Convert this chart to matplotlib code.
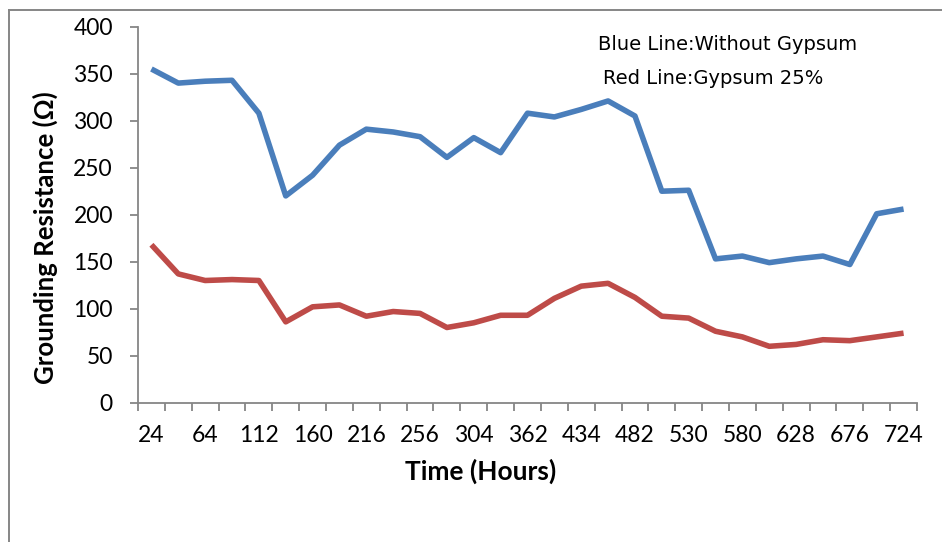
import numpy as np
import matplotlib.pyplot as plt
from matplotlib.lines import Line2D

# time points (hours); only every other one is labelled on the axis
tick_labels = ['24', '64', '112', '160', '216', '256', '304', '362',
               '434', '482', '530', '580', '628', '676', '724']

# grounding resistance (ohm), 29 readings each
without_gypsum = [355, 340, 342, 343, 308, 220, 242, 274, 291, 288, 283, 261, 282, 266, 308,
                  304, 312, 321, 305, 225, 226, 153, 156, 149, 153, 156, 147, 201, 206]
gypsum_25 = [168, 137, 130, 131, 130, 86, 102, 104, 92, 97, 95, 80, 85, 93, 93,
             111, 124, 127, 112, 92, 90, 76, 70, 60, 62, 67, 66, 70, 74]

x = np.arange(len(without_gypsum))

fig = plt.figure(figsize=(9.42, 5.42), dpi=100)
ax = fig.add_axes([138 / 942, 1 - 402.7 / 542, (917 - 138) / 942, 376 / 542])

ax.plot(x, without_gypsum, color='#4A7EBB', lw=4, solid_capstyle='butt', solid_joinstyle='round')
ax.plot(x, gypsum_25, color='#BE4B48', lw=4, solid_capstyle='butt', solid_joinstyle='round')

ax.set_xlim(-0.5, len(x) - 0.5)
ax.set_ylim(0, 400)

gray = '#868686'
for s in ['top', 'right']:
    ax.spines[s].set_visible(False)
for s in ['left', 'bottom']:
    ax.spines[s].set_color(gray)
    ax.spines[s].set_linewidth(1.3)

# tick marks sit between categories, labels on every other category
ax.set_xticks(np.arange(-0.5, len(x), 1))
ax.set_xticklabels([])
ax.set_xticks(x[::2], minor=True)
ax.set_xticklabels(tick_labels, minor=True)
ax.tick_params(axis='x', which='major', length=6, width=1.3, color=gray)
ax.tick_params(axis='x', which='minor', length=0, pad=16, labelsize=16.5)

ax.set_yticks(np.arange(0, 401, 50))
ax.tick_params(axis='y', length=6, width=1.3, color=gray, pad=12, labelsize=16.5)

for lab in ax.get_xticklabels(minor=True) + ax.get_yticklabels():
    lab.set_fontfamily('Lato')

fig.text(45 / 942, 1 - 238 / 542, 'Grounding Resistance (Ω)', rotation=90,
         ha='center', va='center', fontsize=18.5, fontweight='bold', family='Lato')
fig.text(481 / 942, 1 - 471 / 542, 'Time (Hours)', ha='center', va='center',
         fontsize=19, fontweight='bold', family='Lato')

fig.text(598 / 942, 1 - 44 / 542, 'Blue Line:Without Gypsum', ha='left', va='center',
         fontsize=14, family='DejaVu Sans')
fig.text(603 / 942, 1 - 78 / 542, 'Red Line:Gypsum 25%', ha='left', va='center',
         fontsize=14, family='DejaVu Sans')

# chart frame (only top and left edges fall inside the image)
fig.add_artist(Line2D([8.5 / 942, 8.5 / 942], [0, 1 - 9.5 / 542], color=gray, lw=1.4))
fig.add_artist(Line2D([8.5 / 942, 1], [1 - 9.5 / 542, 1 - 9.5 / 542], color=gray, lw=1.4))

fig.savefig('out.png', dpi=100)
